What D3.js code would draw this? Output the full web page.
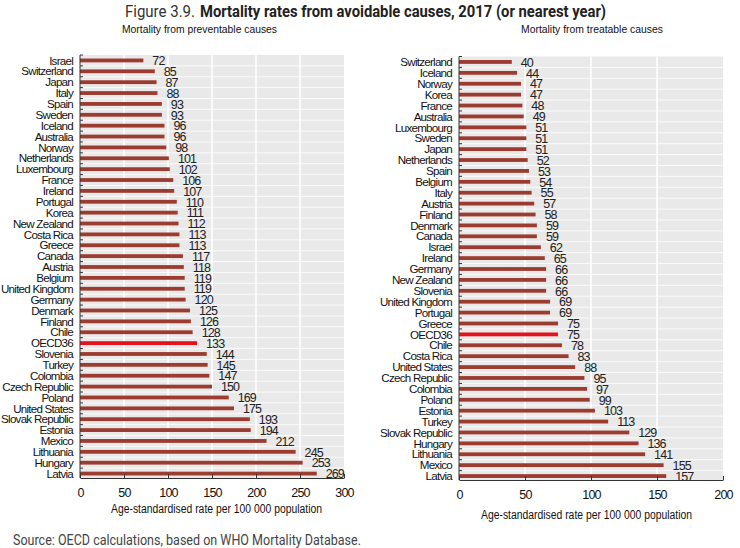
<!DOCTYPE html>
<html>
<head>
<meta charset="utf-8">
<script src="https://cdn.jsdelivr.net/npm/d3@7"></script>
<style>
  body { margin: 0; background: #fff; }
  svg { display: block; }
</style>
</head>
<body>
<div id="chart"></div>
<script>
// Preventable causes (left panel)
const prevCountries = ["Israel", "Switzerland", "Japan", "Italy", "Spain", "Sweden", "Iceland", "Australia",
  "Norway", "Netherlands", "Luxembourg", "France", "Ireland", "Portugal", "Korea", "New Zealand",
  "Costa Rica", "Greece", "Canada", "Austria", "Belgium", "United Kingdom", "Germany", "Denmark",
  "Finland", "Chile", "OECD36", "Slovenia", "Turkey", "Colombia", "Czech Republic", "Poland",
  "United States", "Slovak Republic", "Estonia", "Mexico", "Lithuania", "Hungary", "Latvia"];
const prevValues = [72, 85, 87, 88, 93, 93, 96, 96, 98, 101, 102, 106, 107, 110, 111, 112, 113, 113,
  117, 118, 119, 119, 120, 125, 126, 128, 133, 144, 145, 147, 150, 169, 175, 193, 194, 212, 245, 253, 269];

// Treatable causes (right panel)
const treatCountries = ["Switzerland", "Iceland", "Norway", "Korea", "France", "Australia", "Luxembourg",
  "Sweden", "Japan", "Netherlands", "Spain", "Belgium", "Italy", "Austria", "Finland", "Denmark",
  "Canada", "Israel", "Ireland", "Germany", "New Zealand", "Slovenia", "United Kingdom", "Portugal",
  "Greece", "OECD36", "Chile", "Costa Rica", "United States", "Czech Republic", "Colombia", "Poland",
  "Estonia", "Turkey", "Slovak Republic", "Hungary", "Lithuania", "Mexico", "Latvia"];
const treatValues = [40, 44, 47, 47, 48, 49, 51, 51, 51, 52, 53, 54, 55, 57, 58, 59, 59, 62, 65, 66, 66,
  66, 69, 69, 75, 75, 78, 83, 88, 95, 97, 99, 103, 113, 129, 136, 141, 155, 157];

const prevTicks = [0, 50, 100, 150, 200, 250, 300];
const treatTicks = [0, 50, 100, 150, 200];

const barColor = "#9c3b2f";
const oecdColor = "#e3121b";
const bgColor = "#e9e9e9";

const width = 740, height = 548;

const svg = d3.select("#chart").append("svg")
  .attr("width", width)
  .attr("height", height);

// Title
svg.append("text")
  .attr("x", 125).attr("y", 17)
  .attr("textLength", 70).attr("lengthAdjust", "spacingAndGlyphs")
  .style("font-family", "Roboto, sans-serif")
  .style("font-size", "16px")
  .attr("fill", "#333")
  .text("Figure 3.9.");
svg.append("text")
  .attr("x", 200).attr("y", 17)
  .attr("textLength", 406).attr("lengthAdjust", "spacingAndGlyphs")
  .style("font-family", "Roboto, sans-serif")
  .style("font-size", "16px")
  .style("font-weight", "bold")
  .attr("fill", "#222")
  .text("Mortality rates from avoidable causes, 2017 (or nearest year)");

function panel(opts) {
  const data = opts.countries.map((c, i) => ({ country: c, value: opts.values[i] }));

  const x = d3.scaleLinear()
    .domain([0, opts.max])
    .range([opts.left, opts.right]);

  const y = d3.scaleBand()
    .domain(opts.countries)
    .range([opts.top, opts.bottom])
    .paddingInner(0);

  const g = svg.append("g");

  // grey plot background
  g.append("rect")
    .attr("x", x(0))
    .attr("y", opts.top)
    .attr("width", x(opts.max) - x(0))
    .attr("height", opts.axisY - opts.top)
    .attr("fill", bgColor);

  // vertical gridlines
  g.selectAll(".vgrid")
    .data(opts.ticks.slice(1, -1))
    .enter().append("line")
    .attr("x1", d => x(d)).attr("x2", d => x(d))
    .attr("y1", opts.top).attr("y2", opts.axisY)
    .attr("stroke", "#fff")
    .attr("stroke-width", 1.5);

  // horizontal row separators
  g.selectAll(".hgrid")
    .data(opts.countries.slice(1))
    .enter().append("line")
    .attr("x1", x(0)).attr("x2", x(opts.max))
    .attr("y1", d => y(d)).attr("y2", d => y(d))
    .attr("stroke", "#fff")
    .attr("stroke-width", 0.8);

  // bars
  const barH = 3.8;
  g.selectAll(".bar")
    .data(data)
    .enter().append("rect")
    .attr("x", x(0))
    .attr("y", d => y(d.country) + y.bandwidth() / 2 - barH / 2)
    .attr("width", d => x(d.value) - x(0))
    .attr("height", barH)
    .attr("fill", d => d.country === "OECD36" ? oecdColor : barColor);

  // value labels
  g.selectAll(".val")
    .data(data)
    .enter().append("text")
    .attr("x", d => x(d.value) + 9)
    .attr("y", d => y(d.country) + y.bandwidth() / 2)
    .attr("dy", "0.38em")
    .style("font-family", "'Liberation Sans', Arial, sans-serif")
    .style("font-size", "12.5px")
    .style("letter-spacing", "-0.9px")
    .attr("fill", "#222")
    .text(d => d.value);

  // country labels
  g.selectAll(".cat")
    .data(data)
    .enter().append("text")
    .attr("x", opts.left - 7)
    .attr("y", d => y(d.country) + y.bandwidth() / 2)
    .attr("dy", "0.36em")
    .attr("text-anchor", "end")
    .style("font-family", "'Liberation Sans', Arial, sans-serif")
    .style("font-size", "11.6px")
    .style("letter-spacing", "-0.75px")
    .attr("fill", "#111")
    .text(d => d.country);

  // y axis line + inward ticks between rows
  g.append("line")
    .attr("x1", opts.left).attr("x2", opts.left)
    .attr("y1", opts.top).attr("y2", opts.axisY)
    .attr("stroke", "#333").attr("stroke-width", 1);
  g.selectAll(".ytick")
    .data(opts.countries)
    .enter().append("line")
    .attr("x1", opts.left).attr("x2", opts.left + 3)
    .attr("y1", d => y(d)).attr("y2", d => y(d))
    .attr("stroke", "#333").attr("stroke-width", 1);

  // x axis
  const xAxis = d3.axisBottom(x)
    .tickValues(opts.ticks)
    .tickSizeInner(-4)
    .tickSizeOuter(0)
    .tickPadding(10);
  const ax = g.append("g")
    .attr("transform", `translate(0,${opts.axisY})`)
    .call(xAxis);
  ax.select(".domain").attr("stroke", "#333");
  ax.selectAll(".tick line").attr("stroke", "#333");
  ax.selectAll(".tick text")
    .style("font-family", "'Liberation Sans', Arial, sans-serif")
    .style("font-size", "12.5px")
    .style("letter-spacing", "-0.8px")
    .attr("fill", "#111");

  // panel subtitle
  g.append("text")
    .attr("x", opts.subX).attr("y", 33)
    .attr("textLength", opts.subW).attr("lengthAdjust", "spacingAndGlyphs")
    .style("font-family", "'Liberation Sans', Arial, sans-serif")
    .style("font-size", "11.5px")
    .attr("fill", "#111")
    .text(opts.subtitle);

  // axis title
  g.append("text")
    .attr("x", opts.axTitleX).attr("y", opts.axTitleY)
    .attr("textLength", 211).attr("lengthAdjust", "spacingAndGlyphs")
    .style("font-family", "'Liberation Sans', Arial, sans-serif")
    .style("font-size", "12.5px")
    .attr("fill", "#111")
    .text("Age-standardised rate per 100 000 population");
}

panel({
  countries: prevCountries, values: prevValues, ticks: prevTicks, max: 300,
  left: 80, right: 344, top: 55, bottom: 479, axisY: 478,
  subtitle: "Mortality from preventable causes", subX: 122, subW: 155,
  axTitleX: 111, axTitleY: 513
});

panel({
  countries: treatCountries, values: treatValues, ticks: treatTicks, max: 200,
  left: 459, right: 723, top: 56.5, bottom: 481.5, axisY: 480,
  subtitle: "Mortality from treatable causes", subX: 521, subW: 142,
  axTitleX: 481, axTitleY: 519
});

// Source note
svg.append("text")
  .attr("x", 13).attr("y", 545)
  .attr("textLength", 348).attr("lengthAdjust", "spacingAndGlyphs")
  .style("font-family", "Roboto, sans-serif")
  .style("font-size", "14.5px")
  .attr("fill", "#444")
  .text("Source: OECD calculations, based on WHO Mortality Database.");
</script>
</body>
</html>
